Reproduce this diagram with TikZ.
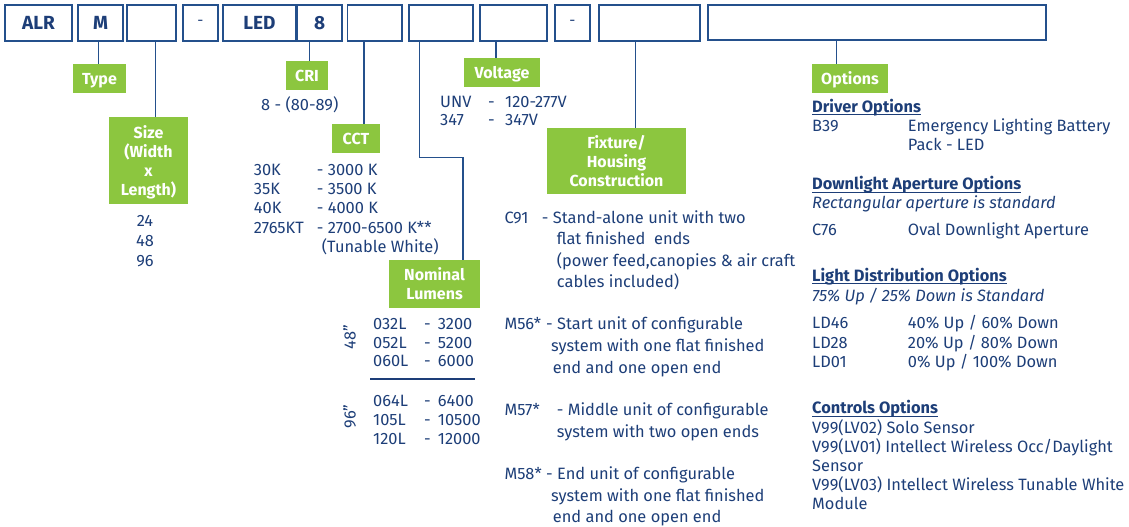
\documentclass[tikz,border=0pt]{standalone}
\usepackage{fontspec}
\setmainfont{Fira Sans}
\definecolor{navy}{HTML}{1D3E78}
\definecolor{boxblue}{HTML}{24508C}
\definecolor{lgreen}{HTML}{8CC63F}
\newcommand\hdrul[1]{\setbox0\hbox{#1}\rlap{\rule[-2.8pt]{\wd0}{1.2pt}}\box0}
\begin{document}
\begin{tikzpicture}[x=1pt,y=-1pt,
  box/.style={draw=boxblue, line width=1.3pt, inner sep=0pt, text=navy,
    font=\bfseries\fontsize{19}{22}\selectfont},
  lab/.style={fill=lgreen, text=white, inner sep=0pt, align=center, text depth=0pt,
    font=\bfseries\fontsize{16}{19}\selectfont},
  rtxt/.style={text=navy, inner sep=0pt, anchor=mid, font=\fontsize{16.4}{19}\selectfont},
  txt/.style={text=navy, inner sep=0pt, anchor=mid west, yshift=-4pt, font=\fontsize{16.4}{19}\selectfont},
  hdr/.style={txt, font=\bfseries\fontsize{16.4}{19}\selectfont},
  ital/.style={txt, font=\itshape\fontsize{16.4}{19}\selectfont},
  conn/.style={draw=boxblue, line width=1.5pt}]
\useasboundingbox (0,0) rectangle (1129,527);

% top row of boxes
\node[box, minimum width=67pt, minimum height=36pt] (b1) at (38.5,23) {ALR};
\node[box, minimum width=45pt, minimum height=36pt] (b2) at (100.5,23) {M};
\node[box, minimum width=49pt, minimum height=36pt] (b3) at (151.5,23) {};
\node[box, minimum width=35pt, minimum height=36pt, font=\fontsize{15}{18}\selectfont] (b4) at (200.5,23) {-};
\node[box, minimum width=73pt, minimum height=36pt] (b5) at (259.5,23) {LED};
\node[box, minimum width=44.5pt, minimum height=36pt] (b6) at (319.75,23) {8};
\node[box, minimum width=54.5pt, minimum height=36pt] (b7) at (374.75,23) {};
\node[box, minimum width=64pt, minimum height=36pt] (b8) at (441,23) {};
\node[box, minimum width=67pt, minimum height=36pt] (b9) at (513.5,23) {};
\node[box, minimum width=35pt, minimum height=36pt, font=\fontsize{15}{18}\selectfont] (b10) at (572.5,23) {-};
\node[box, minimum width=101pt, minimum height=36pt] (b11) at (649.5,23) {};
\node[box, minimum width=338pt, minimum height=35pt] (b12) at (877,22.5) {};

% green labels
\node[lab, minimum width=53pt, minimum height=29pt] (type) at (99.5,78.5) {Type};
\node[lab, minimum width=79pt, minimum height=87pt] (size) at (148.5,160.5) {Size\\(Width\\x\\Length)};
\node[lab, minimum width=42pt, minimum height=29pt] (cri) at (307,75.5) {CRI};
\node[lab, minimum width=48pt, minimum height=29pt] (cct) at (356,138.5) {CCT};
\node[lab, minimum width=76pt, minimum height=29pt] (volt) at (502,72.3) {Voltage};
\node[lab, minimum width=139pt, minimum height=66pt] (fix) at (616.5,161) {Fixture/\\Housing\\Construction};
\node[lab, minimum width=91pt, minimum height=48pt] (nom) at (434.5,284) {Nominal\\Lumens};
\node[lab, minimum width=76pt, minimum height=29pt] (opt) at (850,78.5) {Options};

% connector x positions
\coordinate (xT) at (98.7,0);
\coordinate (xS) at (155.7,0);
\coordinate (xC) at (309.7,0);
\coordinate (xK) at (364,0);
\coordinate (xN1) at (419.3,0);
\coordinate (xN2) at (463,157.7);
\coordinate (xV) at (496,0);
\coordinate (xF) at (635.7,0);
\coordinate (xO) at (836.7,0);

\draw[conn] (b2.south -| xT) -- (type.north -| xT);
\draw[conn] (b3.south -| xS) -- (size.north -| xS);
\draw[conn] (b6.south -| xC) -- (cri.north -| xC);
\draw[conn] (b7.south -| xK) -- (cct.north -| xK);
\draw[conn] (b8.south -| xN1) |- (xN2) -- (nom.north -| xN2);
\draw[conn] (b9.south -| xV) -- (volt.north -| xV);
\draw[conn] (b11.south -| xF) -- (fix.north -| xF);
\draw[conn] (b12.south -| xO) -- (opt.north -| xO);

% CRI
\node[txt] (cri1) at (261,104) {8 - (80-89)};
% Size values
\node[rtxt] (s1) at (145,224) {24};
\node[rtxt] (s2) at (145,244) {48};
\node[rtxt] (s3) at (145,264) {96};
% CCT values
\node[txt] (k1) at (253.7,169) {30K};
\node[txt] (k2) at (253.7,188) {35K};
\node[txt] (k3) at (253.7,207) {40K};
\node[txt] (k4) at (253.7,227) {2765KT};
\node[txt] (k1v) at (316.7,169) {- 3000 K};
\node[txt] (k2v) at (316.7,188) {- 3500 K};
\node[txt] (k3v) at (316.7,207) {- 4000 K};
\node[txt] (k4v) at (316.7,227) {- 2700-6500 K**};
\node[txt] (k5v) at (321.7,245.7) {(Tunable White)};
% Voltage
\node[txt] (v1) at (440,101) {UNV};
\node[txt] (v1d) at (488,101) {-};
\node[txt] (v1v) at (505,101) {120-277V};
\node[txt] (v2) at (440,119) {347};
\node[txt] (v2d) at (488,119) {-};
\node[txt] (v2v) at (505,119) {347V};
% Lumens
\node[rtxt, rotate=90] (r48) at (353,337) {48”};
\node[rtxt, rotate=90] (r96) at (353,416.7) {96”};
\node[txt] (l1) at (373,322.7) {032L};
\node[txt] (l2) at (373,341.5) {052L};
\node[txt] (l3) at (373,360.3) {060L};
\node[txt] (l4) at (373,400) {064L};
\node[txt] (l5) at (373,419) {105L};
\node[txt] (l6) at (373,438) {120L};
\foreach \yy/\nm in {322.7/3200,341.5/5200,360.3/6000,400/6400,419/10500,438/12000}{
  \node[txt] at (424,\yy) {-};
  \node[txt] at (437.7,\yy) {\nm};
}
\draw[draw=navy, line width=1.3pt] (370,379) -- (475,379);
% Fixture
\node[txt] (f1) at (504.3,217.3) {C91};
\node[txt] at (541.7,217.3) {- Stand-alone unit with two};
\node[txt] at (556.7,238.3) {flat finished\ \ ends};
\node[txt] at (556.7,259.5) {(power feed,canopies \& air craft};
\node[txt] at (556.7,281) {cables included)};
\node[txt] (f2) at (504.3,323) {M56*};
\node[txt] at (546,323) {- Start unit of configurable};
\node[txt] at (551,345) {system with one flat finished};
\node[txt] at (552.7,366.7) {end and one open end};
\node[txt] (f3) at (504.3,409.3) {M57*};
\node[txt] at (556.7,409.3) {- Middle unit of configurable};
\node[txt] at (556.7,430.7) {system with two open ends};
\node[txt] (f4) at (504.3,473.3) {M58*};
\node[txt] at (546,473.3) {- End unit of configurable};
\node[txt] at (551,495) {system with one flat finished};
\node[txt] at (552.7,515.7) {end and one open end};
% Options
\node[hdr] (h1) at (812,106) {\hdrul{Driver Options}};
\node[txt] at (812,125) {B39};
\node[txt] at (907.7,125) {Emergency Lighting Battery};
\node[txt] at (907.7,144) {Pack - LED};
\node[hdr] (h2) at (812,183.3) {\hdrul{Downlight Aperture Options}};
\node[ital] at (812,202.3) {Rectangular aperture is standard};
\node[txt] at (812,229.3) {C76};
\node[txt] at (907.7,229.3) {Oval Downlight Aperture};
\node[hdr] (h3) at (812,275) {\hdrul{Light Distribution Options}};
\node[ital] at (812,295) {75\% Up / 25\% Down is Standard};
\node[txt] at (812,322.3) {LD46};
\node[txt] at (907.7,322.3) {40\% Up / 60\% Down};
\node[txt] at (812,341.7) {LD28};
\node[txt] at (907.7,341.7) {20\% Up / 80\% Down};
\node[txt] at (812,360.7) {LD01};
\node[txt] at (907.7,360.7) {0\% Up / 100\% Down};
\node[hdr] (h4) at (812,407.3) {\hdrul{Controls Options}};
\node[txt] at (812,426.7) {V99(LV02) Solo Sensor};
\node[txt] at (812,445.7) {V99(LV01) Intellect Wireless Occ/Daylight};
\node[txt] at (812,464.7) {Sensor};
\node[txt] at (812,484) {V99(LV03) Intellect Wireless Tunable White};
\node[txt] at (812,503.3) {Module};
\end{tikzpicture}
\end{document}
